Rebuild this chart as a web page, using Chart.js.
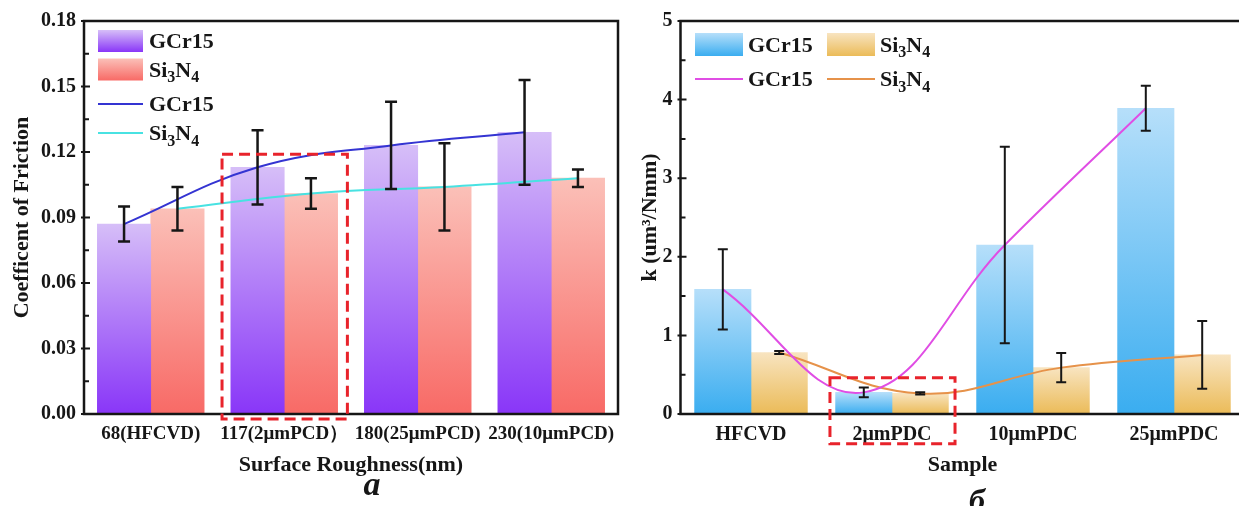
<!DOCTYPE html>
<html>
<head>
<meta charset="utf-8">
<script src="https://cdn.jsdelivr.net/npm/chart.js@4.4.1/dist/chart.umd.min.js"></script>
<style>
  html, body { margin: 0; padding: 0; background: #fff; overflow: hidden; }
  #wrap { position: relative; width: 1239px; height: 506px; overflow: hidden; }
  #cof { position: absolute; left: 0; top: 0; width: 620px; height: 506px; }
  #wear { position: absolute; left: 620px; top: 0; width: 640px; height: 506px; }
</style>
</head>
<body>
<div id="wrap">
  <canvas id="cof" width="620" height="506"></canvas>
  <canvas id="wear" width="640" height="506"></canvas>
</div>
<script>
// Friction / wear figure (a, б)

// --- data: panel a (coefficient of friction) ---
const roughnessLabels = ['68(HFCVD)', '117(2μmPCD）', '180(25μmPCD)', '230(10μmPCD)'];
const cofGCr15 = [0.087, 0.113, 0.123, 0.129];
const cofGCr15Err = [0.008, 0.017, 0.020, 0.024];
const cofSi3N4 = [0.094, 0.101, 0.104, 0.108];
const cofSi3N4Err = [0.010, 0.007, 0.020, 0.004];
const cofTicks = [0, 0.03, 0.06, 0.09, 0.12, 0.15, 0.18];

// --- data: panel б (wear rate k) ---
const sampleLabels = ['HFCVD', '2μmPDC', '10μmPDC', '25μmPDC'];
const kGCr15 = [1.585, 0.275, 2.15, 3.89];
const kGCr15Err = [0.51, 0.063, 1.25, 0.285];
const kSi3N4 = [0.782, 0.262, 0.59, 0.752];
const kSi3N4Err = [0.02, 0.015, 0.185, 0.43];
const kTicks = [0, 1, 2, 3, 4, 5];

const FAMILY = "'Liberation Serif', 'Times New Roman', serif";
const INK = '#161616';
const SHIFT = 0.2; // half a bar: GCr15 left of the category, Si3N4 right

Chart.defaults.font.family = FAMILY;

function barGradient(top, bottom) {
    return (ctx) => {
        const chart = ctx.chart;
        if (ctx.type !== 'data' || !chart.chartArea) return bottom;
        const y = chart.scales.y;
        const g = chart.ctx.createLinearGradient(0, y.getPixelForValue(ctx.raw.y), 0, y.getPixelForValue(0));
        g.addColorStop(0, top);
        g.addColorStop(1, bottom);
        return g;
    };
}

// text like 'Si{3}N{4}' -> braces are subscripts
function drawFormula(ctx, text, x, y, size) {
    const parts = text.split(/(\{[^}]*\})/).filter(Boolean);
    for (const p of parts) {
        const sub = p[0] === '{';
        const s = sub ? p.slice(1, -1) : p;
        ctx.font = `bold ${sub ? Math.round(size * 0.74) : size}px ${FAMILY}`;
        ctx.fillText(s, x, sub ? y + size * 0.24 : y);
        x += ctx.measureText(s).width;
    }
}

const figurePlugin = {
    id: 'figure',
    afterDatasetsDraw(chart, args, opts) {
        const { ctx, scales: { y } } = chart;
        ctx.save();
        ctx.strokeStyle = INK;
        ctx.lineWidth = opts.errorWidth;
        chart.data.datasets.forEach((ds, di) => {
            if (!ds.errors) return;
            chart.getDatasetMeta(di).data.forEach((bar, i) => {
                const v = ds.data[i].y, e = ds.errors[i];
                const yt = y.getPixelForValue(v + e), yb = y.getPixelForValue(v - e);
                ctx.beginPath();
                ctx.moveTo(bar.x, yt); ctx.lineTo(bar.x, yb);
                ctx.moveTo(bar.x - opts.cap, yt); ctx.lineTo(bar.x + opts.cap, yt);
                ctx.moveTo(bar.x - opts.cap, yb); ctx.lineTo(bar.x + opts.cap, yb);
                ctx.stroke();
            });
        });
        ctx.restore();
    },
    afterDraw(chart, args, opts) {
        const { ctx, chartArea: a, scales: { x, y } } = chart;
        ctx.save();

        // frame
        ctx.strokeStyle = INK;
        ctx.lineWidth = 2.5;
        ctx.strokeRect(a.left, a.top, a.right - a.left, a.bottom - a.top);

        // y ticks: major crossing, minor inward
        ctx.lineWidth = 2;
        const t = y.ticks.map(k => k.value);
        t.forEach((v, i) => {
            const py = y.getPixelForValue(v);
            ctx.beginPath();
            ctx.moveTo(a.left - 3, py); ctx.lineTo(a.left + 6, py);
            if (i < t.length - 1) {
                const my = y.getPixelForValue((v + t[i + 1]) / 2);
                ctx.moveTo(a.left, my); ctx.lineTo(a.left + 5, my);
            }
            ctx.stroke();
        });

        // legend
        const lg = opts.legend;
        lg.items.forEach(it => {
            const x0 = a.left + lg.cols[it.col];
            const cy = a.top + lg.rows[it.row];
            if (it.kind === 'bar') {
                const g = ctx.createLinearGradient(0, cy - lg.h / 2, 0, cy + lg.h / 2);
                g.addColorStop(0, it.top);
                g.addColorStop(1, it.bottom);
                ctx.fillStyle = g;
                ctx.fillRect(x0, cy - lg.h / 2, lg.w, lg.h);
            } else {
                ctx.strokeStyle = it.color;
                ctx.lineWidth = 2;
                ctx.beginPath();
                ctx.moveTo(x0, cy); ctx.lineTo(x0 + lg.w, cy);
                ctx.stroke();
            }
            ctx.fillStyle = INK;
            ctx.textBaseline = 'alphabetic';
            ctx.textAlign = 'left';
            drawFormula(ctx, it.text, x0 + lg.w + lg.gap, cy + lg.size * 0.34, lg.size);
        });

        // highlighted group
        const h = opts.highlight;
        ctx.strokeStyle = '#e8232b';
        ctx.lineWidth = 3;
        ctx.setLineDash([11, 6]);
        const hx0 = x.getPixelForValue(h.from), hx1 = x.getPixelForValue(h.to);
        const hy0 = y.getPixelForValue(h.top), hy1 = y.getPixelForValue(h.bottom);
        ctx.strokeRect(hx0, hy0, hx1 - hx0, hy1 - hy0);
        ctx.setLineDash([]);

        // panel letter
        const c = opts.caption;
        ctx.fillStyle = INK;
        ctx.font = `italic bold ${c.size}px ${FAMILY}`;
        ctx.textAlign = 'center';
        ctx.textBaseline = 'alphabetic';
        ctx.fillText(c.text, c.x, c.y);
        ctx.restore();
    }
};

function buildChart(canvasId, cfg) {
    const points = (values, shift) => values.map((v, i) => ({ x: i + shift, y: v }));
    const tickFont = { family: FAMILY, size: 20, weight: 'bold' };
    const titleFont = { family: FAMILY, size: 22, weight: 'bold' };
    const barStyle = { borderWidth: 0, grouped: false, categoryPercentage: 1, barPercentage: 1, order: 2 };
    const lineStyle = { type: 'line', borderWidth: 2, pointRadius: 0, tension: 0.4, fill: false, order: 1 };

    return new Chart(document.getElementById(canvasId), {
        type: 'bar',
        data: {
            datasets: [
                { ...barStyle, label: 'GCr15', data: points(cfg.g, -SHIFT), errors: cfg.gErr,
                  backgroundColor: barGradient(...cfg.gBar) },
                { ...barStyle, label: 'Si3N4', data: points(cfg.s, SHIFT), errors: cfg.sErr,
                  backgroundColor: barGradient(...cfg.sBar) },
                { ...lineStyle, label: 'GCr15 line', data: points(cfg.g, -SHIFT), borderColor: cfg.gLine },
                { ...lineStyle, label: 'Si3N4 line', data: points(cfg.s, SHIFT), borderColor: cfg.sLine }
            ]
        },
        options: {
            responsive: false,
            animation: false,
            events: [],
            layout: { padding: cfg.padding },
            plugins: {
                legend: { display: false },
                tooltip: { enabled: false },
                figure: cfg.figure
            },
            scales: {
                x: {
                    type: 'linear',
                    offset: false,
                    min: -0.5,
                    max: cfg.labels.length - 0.5,
                    afterBuildTicks: s => { s.ticks = cfg.labels.map((l, i) => ({ value: i })); },
                    grid: { display: false, drawTicks: false, offset: false },
                    border: { display: false },
                    ticks: { font: { ...tickFont, size: cfg.xTickSize }, color: INK, padding: 9,
                             maxRotation: 0, autoSkip: false, callback: v => cfg.labels[v] },
                    title: { display: true, text: cfg.xTitle, font: titleFont, color: INK, padding: { bottom: 27 } },
                    afterFit: s => { s.height = 92; s.paddingLeft = 0; s.paddingRight = 0; }
                },
                y: {
                    min: cfg.ticks[0],
                    max: cfg.ticks[cfg.ticks.length - 1],
                    afterBuildTicks: s => { s.ticks = cfg.ticks.map(v => ({ value: v })); },
                    grid: { display: false, drawTicks: false },
                    border: { display: false },
                    ticks: { font: tickFont, color: INK, padding: 8, callback: v => v.toFixed(cfg.decimals) },
                    title: { display: true, text: cfg.yTitle, font: titleFont, color: INK, padding: { top: cfg.yTitlePad } },
                    afterFit: s => { s.width = cfg.yWidth; s.paddingTop = 0; s.paddingBottom = 0; }
                }
            }
        },
        plugins: [figurePlugin]
    });
}

buildChart('cof', {
    labels: roughnessLabels,
    g: cofGCr15, gErr: cofGCr15Err,
    s: cofSi3N4, sErr: cofSi3N4Err,
    ticks: cofTicks, decimals: 2,
    gBar: ['#d6bef8', '#8936f8'],
    sBar: ['#fbc0b8', '#f86a66'],
    gLine: '#3434d2',
    sLine: '#48e2e2',
    xTitle: 'Surface Roughness(nm)',
    yTitle: 'Coefficent of Friction',
    xTickSize: 19,
    yWidth: 84, yTitlePad: 9,
    padding: { left: 0, top: 21, right: 2, bottom: 0 },
    figure: {
        errorWidth: 2.5, cap: 6,
        legend: {
            cols: [14], rows: [20, 48.5, 83, 112], w: 45, h: 22, gap: 6, size: 22,
            items: [
                { kind: 'bar', col: 0, row: 0, top: '#d6bef8', bottom: '#8936f8', text: 'GCr15' },
                { kind: 'bar', col: 0, row: 1, top: '#fbc0b8', bottom: '#f86a66', text: 'Si{3}N{4}' },
                { kind: 'line', col: 0, row: 2, color: '#3434d2', text: 'GCr15' },
                { kind: 'line', col: 0, row: 3, color: '#48e2e2', text: 'Si{3}N{4}' }
            ]
        },
        highlight: { from: 0.534, to: 1.473, top: 0.119, bottom: -0.0023 },
        caption: { text: 'a', x: 372, y: 495, size: 34 }
    }
});

buildChart('wear', {
    labels: sampleLabels,
    g: kGCr15, gErr: kGCr15Err,
    s: kSi3N4, sErr: kSi3N4Err,
    ticks: kTicks, decimals: 0,
    gBar: ['#b6dffa', '#3aadf0'],
    sBar: ['#f8e4c0', '#ebbb58'],
    gLine: '#e04ee4',
    sLine: '#e6924a',
    xTitle: 'Sample',
    yTitle: 'k (um³/Nmm)',
    xTickSize: 20,
    yWidth: 60.5, yTitlePad: 17,
    padding: { left: 0, top: 21, right: 15.5, bottom: 0 },
    figure: {
        errorWidth: 2, cap: 5,
        legend: {
            cols: [14.5, 146.5], rows: [23.5, 58], w: 48, h: 23, gap: 5, size: 22,
            items: [
                { kind: 'bar', col: 0, row: 0, top: '#b6dffa', bottom: '#3aadf0', text: 'GCr15' },
                { kind: 'bar', col: 1, row: 0, top: '#f8e4c0', bottom: '#ebbb58', text: 'Si{3}N{4}' },
                { kind: 'line', col: 0, row: 1, color: '#e04ee4', text: 'GCr15' },
                { kind: 'line', col: 1, row: 1, color: '#e6924a', text: 'Si{3}N{4}' }
            ]
        },
        highlight: { from: 0.56, to: 1.447, top: 0.46, bottom: -0.38 },
        caption: { text: 'б', x: 357, y: 511, size: 32 }
    }
});
</script>
</body>
</html>
